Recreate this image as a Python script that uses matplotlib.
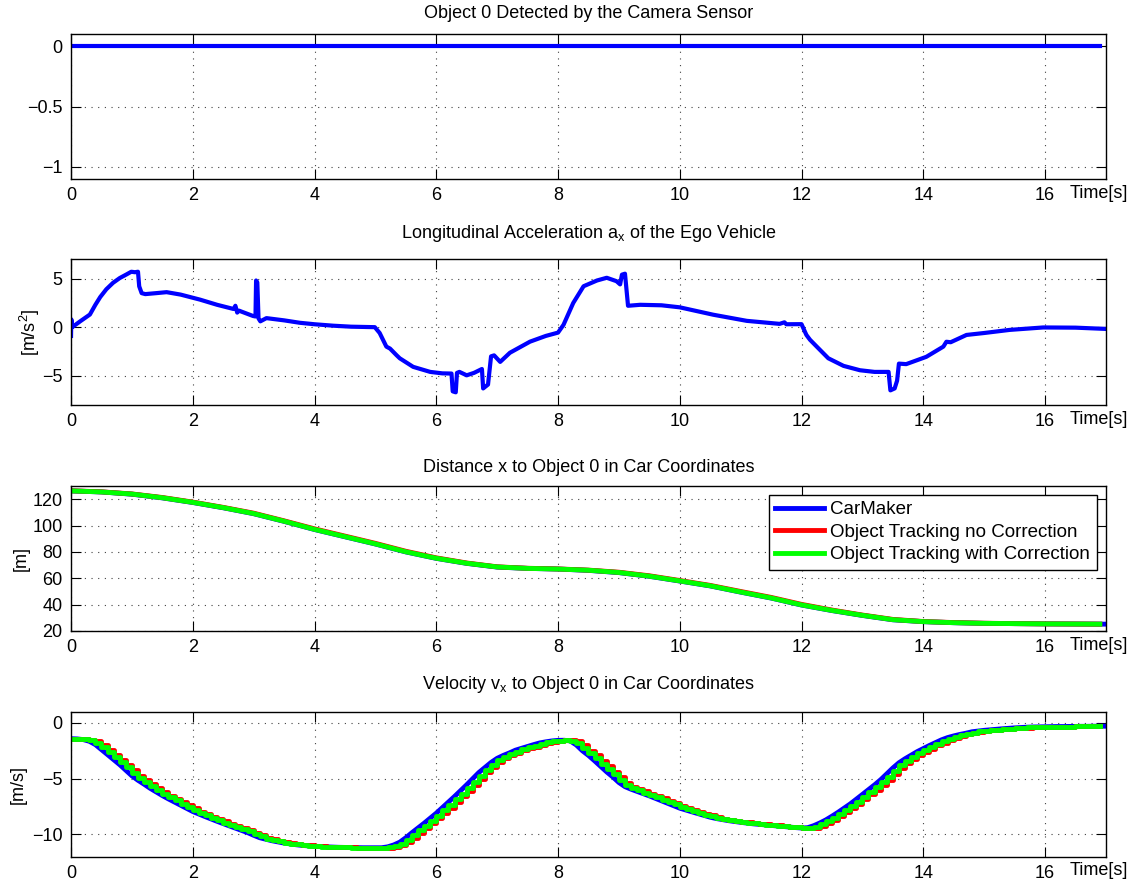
import numpy as np
import matplotlib.pyplot as plt

plt.rcParams['font.family'] = ['Liberation Sans', 'DejaVu Sans']
plt.rcParams['mathtext.fontset'] = 'custom'
plt.rcParams['mathtext.rm'] = 'Liberation Sans'
plt.rcParams['xtick.direction'] = 'in'
plt.rcParams['ytick.direction'] = 'in'
plt.rcParams['figure.dpi'] = 100

FS = 13

# object 0 flag from the camera sensor
t_cam = [0.0, 16.91]
cam_detected = [0.0, 0.0]

# longitudinal acceleration of the ego vehicle
t_acc = [0.00, 0.005, 0.02, 0.15, 0.31, 0.40, 0.48, 0.58, 0.69, 0.80, 0.91, 0.99, 1.05, 1.10,
         1.12, 1.16, 1.22, 1.40, 1.57, 1.80, 2.12, 2.40, 2.67, 2.70, 2.73, 2.76, 2.80, 2.99,
         3.03, 3.04, 3.06, 3.08, 3.11, 3.21, 3.50, 3.76, 4.00, 4.31, 4.60, 4.99, 5.07, 5.18,
         5.24, 5.35, 5.40, 5.62, 5.90, 6.10, 6.25, 6.27, 6.32, 6.34, 6.38, 6.50, 6.62, 6.75,
         6.77, 6.85, 6.90, 6.95, 7.05, 7.21, 7.54, 7.80, 8.00, 8.09, 8.25, 8.42, 8.64, 8.80,
         8.96, 9.02, 9.05, 9.10, 9.15, 9.35, 9.70, 10.00, 10.55, 11.10, 11.64, 11.72, 11.75,
         12.00, 12.08, 12.14, 12.25, 12.44, 12.69, 12.96, 13.20, 13.43, 13.46, 13.53, 13.57,
         13.60, 13.72, 14.05, 14.33, 14.38, 14.45, 14.71, 15.00, 15.42, 15.97, 16.50, 17.00]
acc_x = [-0.9, 0.8, 0.0, 0.6, 1.3, 2.3, 3.1, 3.9, 4.56, 5.05, 5.42, 5.7, 5.65, 5.7,
         4.2, 3.5, 3.4, 3.5, 3.6, 3.35, 2.83, 2.3, 1.87, 2.2, 1.5, 1.7, 1.6, 1.15,
         1.1, 4.8, 4.6, 0.9, 0.6, 0.93, 0.7, 0.45, 0.3, 0.15, 0.05, 0.0, -0.6, -2.0,
         -2.2, -2.9, -3.2, -4.08, -4.6, -4.75, -4.77, -6.6, -6.7, -4.7, -4.6, -4.95, -4.7, -4.3,
         -6.3, -5.9, -3.0, -2.9, -3.57, -2.63, -1.49, -0.9, -0.56, 0.24, 2.49, 4.21, 4.8, 5.08,
         4.73, 4.4, 5.4, 5.5, 2.2, 2.3, 2.25, 2.04, 1.28, 0.65, 0.34, 0.5, 0.3,
         0.31, -0.8, -1.3, -2.0, -3.2, -3.98, -4.43, -4.6, -4.6, -6.5, -6.3, -5.5,
         -3.75, -3.8, -3.05, -2.0, -1.5, -1.55, -0.8, -0.6, -0.28, -0.03, -0.05, -0.18]

# distance x to object 0
t_dist = [0.0, 0.5, 1.0, 1.5, 2.0, 2.5, 3.0, 3.5, 4.0, 4.5, 5.0, 5.5, 6.0, 6.5, 7.0, 7.5, 8.0,
          8.5, 9.0, 9.5, 10.0, 10.5, 11.0, 11.5, 12.0, 12.5, 13.0, 13.5, 14.0, 14.5, 15.0,
          15.5, 16.0, 16.5, 17.0]
dist_carmaker = [126.3, 125.5, 123.8, 121.0, 117.5, 113.5, 109.0, 103.2, 97.0, 91.5, 86.0,
                 80.0, 75.1, 71.3, 68.5, 67.5, 67.0, 66.0, 64.3, 61.5, 57.9, 54.2, 49.5,
                 45.0, 39.7, 35.5, 31.8, 28.5, 27.1, 26.3, 25.8, 25.6, 25.4, 25.3, 25.2]
dist_track_nocorr = [126.4, 125.6, 124.0, 121.3, 117.8, 113.8, 109.4, 103.6, 97.5, 92.0, 86.5,
                     80.5, 75.5, 71.6, 68.7, 67.6, 67.1, 66.2, 64.6, 61.9, 58.3, 54.6, 50.0,
                     45.5, 40.2, 35.9, 32.1, 28.8, 27.2, 26.4, 25.9, 25.6, 25.4, 25.3, 25.2]
dist_track_corr = [126.3, 125.5, 123.9, 121.1, 117.6, 113.6, 109.1, 103.3, 97.1, 91.6, 86.1,
                   80.1, 75.2, 71.4, 68.6, 67.5, 67.0, 66.1, 64.4, 61.6, 58.0, 54.3, 49.6,
                   45.1, 39.8, 35.6, 31.9, 28.6, 27.1, 26.3, 25.8, 25.6, 25.4, 25.3, 25.2]
t_dist_track = t_dist[:-1] + [16.9]

# relative velocity vx, logged every 0.1 s
t_vel = np.round(np.arange(0, 171) * 0.1, 1)
vx_carmaker = [
    -1.42, -1.44, -1.50, -1.65, -1.95, -2.40, -2.85, -3.30, -3.75, -4.25,
    -4.75, -5.15, -5.50, -5.87, -6.20, -6.52, -6.82, -7.10, -7.38, -7.66,
    -7.95, -8.18, -8.40, -8.62, -8.83, -9.04, -9.24, -9.44, -9.64, -9.84,
    -10.08, -10.30, -10.44, -10.57, -10.68, -10.78, -10.86, -10.93, -10.99, -11.03,
    -11.07, -11.10, -11.12, -11.14, -11.16, -11.17, -11.18, -11.19, -11.20, -11.20,
    -11.20, -11.20, -11.12, -10.95, -10.70, -10.30, -9.85, -9.43, -9.00, -8.55,
    -8.10, -7.60, -7.10, -6.60, -6.08, -5.55, -5.00, -4.45, -4.00, -3.55,
    -3.18, -2.92, -2.70, -2.45, -2.28, -2.12, -1.95, -1.80, -1.70, -1.62,
    -1.57, -1.56, -1.62, -1.98, -2.50, -2.92, -3.40, -3.90, -4.40, -4.85,
    -5.35, -5.72, -5.95, -6.15, -6.35, -6.55, -6.77, -6.98, -7.20, -7.43,
    -7.65, -7.82, -7.98, -8.14, -8.30, -8.46, -8.58, -8.68, -8.77, -8.85,
    -8.92, -8.99, -9.05, -9.10, -9.15, -9.20, -9.26, -9.31, -9.35, -9.39,
    -9.43, -9.40, -9.22, -8.98, -8.70, -8.37, -8.02, -7.65, -7.27, -6.85,
    -6.42, -5.99, -5.56, -5.10, -4.57, -4.05, -3.58, -3.22, -2.90, -2.58,
    -2.30, -2.03, -1.77, -1.52, -1.32, -1.17, -1.04, -0.93, -0.80, -0.73,
    -0.67, -0.62, -0.57, -0.53, -0.49, -0.45, -0.42, -0.39, -0.37, -0.36,
    -0.35, -0.34, -0.33, -0.33, -0.32, -0.32, -0.31, -0.31, -0.30, -0.30,
    -0.30]
vx_track_nocorr = [
    -1.42, -1.42, -1.44, -1.50, -1.65, -1.95, -2.40, -2.85, -3.30, -3.75,
    -4.25, -4.75, -5.15, -5.50, -5.87, -6.20, -6.52, -6.82, -7.10, -7.38,
    -7.66, -7.95, -8.18, -8.40, -8.62, -8.83, -9.04, -9.24, -9.44, -9.64,
    -9.84, -10.08, -10.30, -10.44, -10.57, -10.68, -10.78, -10.86, -10.93, -10.99,
    -11.03, -11.07, -11.10, -11.12, -11.14, -11.16, -11.17, -11.18, -11.19, -11.20,
    -11.20, -11.20, -11.20, -11.12, -10.95, -10.70, -10.30, -9.85, -9.43, -9.00,
    -8.55, -8.10, -7.60, -7.10, -6.60, -6.08, -5.55, -5.00, -4.45, -4.00,
    -3.55, -3.18, -2.92, -2.70, -2.45, -2.28, -2.12, -1.95, -1.80, -1.70,
    -1.62, -1.57, -1.56, -1.62, -1.98, -2.50, -2.92, -3.40, -3.90, -4.40,
    -4.85, -5.35, -5.72, -5.95, -6.15, -6.35, -6.55, -6.77, -6.98, -7.20,
    -7.43, -7.65, -7.82, -7.98, -8.14, -8.30, -8.46, -8.58, -8.68, -8.77,
    -8.85, -8.92, -8.99, -9.05, -9.10, -9.15, -9.20, -9.26, -9.31, -9.35,
    -9.39, -9.43, -9.40, -9.22, -8.98, -8.70, -8.37, -8.02, -7.65, -7.27,
    -6.85, -6.42, -5.99, -5.56, -5.10, -4.57, -4.05, -3.58, -3.22, -2.90,
    -2.58, -2.30, -2.03, -1.77, -1.52, -1.32, -1.17, -1.04, -0.93, -0.80,
    -0.73, -0.67, -0.62, -0.57, -0.53, -0.49, -0.45, -0.42, -0.39, -0.37,
    -0.36, -0.35, -0.34, -0.33, -0.33, -0.32, -0.32, -0.31, -0.31, -0.30]
vx_track_corr = [
    -1.42, -1.43, -1.47, -1.58, -1.80, -2.18, -2.63, -3.08, -3.53, -4.00,
    -4.50, -4.95, -5.33, -5.69, -6.04, -6.36, -6.67, -6.96, -7.24, -7.52,
    -7.81, -8.07, -8.29, -8.51, -8.73, -8.94, -9.14, -9.34, -9.54, -9.74,
    -9.96, -10.19, -10.37, -10.51, -10.63, -10.73, -10.82, -10.90, -10.96, -11.01,
    -11.05, -11.09, -11.11, -11.13, -11.15, -11.17, -11.18, -11.19, -11.20, -11.20,
    -11.20, -11.20, -11.16, -11.04, -10.83, -10.50, -10.08, -9.64, -9.22, -8.78,
    -8.33, -7.85, -7.35, -6.85, -6.34, -5.82, -5.28, -4.73, -4.23, -3.78,
    -3.37, -3.05, -2.81, -2.58, -2.37, -2.20, -2.04, -1.88, -1.75, -1.66,
    -1.60, -1.57, -1.59, -1.80, -2.24, -2.71, -3.16, -3.65, -4.15, -4.63,
    -5.10, -5.54, -5.84, -6.05, -6.25, -6.45, -6.66, -6.88, -7.09, -7.32,
    -7.54, -7.74, -7.90, -8.06, -8.22, -8.38, -8.52, -8.63, -8.73, -8.81,
    -8.89, -8.96, -9.02, -9.08, -9.13, -9.18, -9.23, -9.29, -9.33, -9.37,
    -9.41, -9.42, -9.31, -9.10, -8.84, -8.54, -8.20, -7.84, -7.46, -7.06,
    -6.64, -6.21, -5.78, -5.33, -4.84, -4.31, -3.82, -3.40, -3.06, -2.74,
    -2.44, -2.17, -1.90, -1.65, -1.42, -1.25, -1.11, -0.99, -0.87, -0.77,
    -0.70, -0.65, -0.60, -0.55, -0.51, -0.47, -0.44, -0.41, -0.38, -0.37,
    -0.36, -0.35, -0.34, -0.33, -0.33, -0.32, -0.32, -0.31, -0.31, -0.30]


def matlab_axes(ax, ylim, yticks):
    ax.set_xlim(0, 17)
    ax.set_ylim(*ylim)
    ax.set_xticks(np.arange(0, 17, 2))
    ax.set_yticks(yticks)
    ax.tick_params(axis='both', which='both', direction='in', length=7.5, width=0.8,
                   top=True, right=True, labelsize=FS, pad=6, colors='black')
    ax.grid(True, color='0.25', linestyle=(0, (1, 5)), linewidth=0.8)
    for sp in ax.spines.values():
        sp.set_linewidth(1.0)
        sp.set_color('black')
    ax.text(1.021, -0.038, 'Time[s]', transform=ax.transAxes, ha='right', va='top',
            fontsize=FS)


fig = plt.figure(figsize=(11.31, 8.84))
left, width, height = 0.0628, 0.915, 0.164
ax1 = fig.add_axes([left, 0.7975, width, height])
ax2 = fig.add_axes([left, 0.5419, width, height + 0.001])
ax3 = fig.add_axes([left, 0.2862, width, height])
ax4 = fig.add_axes([left, 0.0309, width, height])

ax1.plot(t_cam, cam_detected, color='#0000ff', linewidth=3)
matlab_axes(ax1, (-1.1, 0.1), [-1, -0.5, 0])
ax1.set_yticklabels(['\u22121', '\u22120.5', '0'])
ax1.set_title('Object 0 Detected by the Camera Sensor', fontsize=FS, pad=11.5)

ax2.plot(t_acc, acc_x, color='#0000ff', linewidth=3)
matlab_axes(ax2, (-8, 7), [-5, 0, 5])
ax2.set_yticklabels(['\u22125', '0', '5'])
ax2.set_title(r'Longitudinal Acceleration $\mathregular{a_x}$ of the Ego Vehicle',
              fontsize=FS, pad=15)
ax2.set_ylabel(r'[m/s$^\mathregular{2}$]', fontsize=FS, labelpad=0)

ax3.plot(t_dist, dist_carmaker, color='#0000ff', linewidth=3.5, label='CarMaker')
ax3.plot(t_dist_track, dist_track_nocorr, color='#ff0000', linewidth=3.5,
         label='Object Tracking no Correction')
ax3.plot(t_dist_track, dist_track_corr, color='#00ff00', linewidth=3.5,
         label='Object Tracking with Correction')
matlab_axes(ax3, (20, 130), np.arange(20, 121, 20))
ax3.set_title('Distance x to Object 0 in Car Coordinates', fontsize=FS, pad=10)
ax3.set_ylabel('[m]', fontsize=FS, labelpad=2)
leg = ax3.legend(loc='upper right', bbox_to_anchor=(0.9913, 0.94), fontsize=13.5,
                 frameon=True, fancybox=False, edgecolor='black', framealpha=1,
                 handlelength=2.6, handletextpad=0.35, labelspacing=0.28,
                 borderpad=0.35, borderaxespad=0)
leg.get_frame().set_linewidth(1.0)

ax4.plot(t_vel, vx_carmaker, color='#0000ff', linewidth=3.5)
ax4.plot(t_vel[:-1], vx_track_nocorr, color='#ff0000', linewidth=3.5, drawstyle='steps-post')
ax4.plot(t_vel[:-1], vx_track_corr, color='#00ff00', linewidth=3.5, drawstyle='steps-post')
matlab_axes(ax4, (-12, 1), [-10, -5, 0])
ax4.set_yticklabels(['\u221210', '\u22125', '0'])
ax4.set_title(r'Velocity $\mathregular{v_x}$ to Object 0 in Car Coordinates',
              fontsize=FS, pad=16)
ax4.set_ylabel('[m/s]', fontsize=FS, labelpad=4)

fig.savefig('out.png', dpi=100)
